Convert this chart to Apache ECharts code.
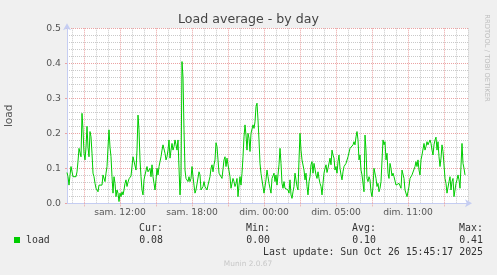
<!DOCTYPE html>
<html><head><meta charset="utf-8">
<script src="https://cdn.jsdelivr.net/npm/echarts@6/dist/echarts.min.js"></script>
<style>html,body{margin:0;padding:0;background:#f0f0f0;}#chart{width:497px;height:275px;}</style>
</head><body><div id="chart"></div>
<script>
const chartTitle = 'Load average - by day';
const seriesName = 'load';
const slotCount = 402; // 5-minute slots across the plot
const loadValues = [
0.088,0.076,0.052,0.08,0.105,0.11,0.076,0.078,0.081,0.076,
0.09,0.12,0.157,0.157,0.133,0.257,0.21,0.143,0.124,0.16,
0.22,0.16,0.133,0.205,0.19,0.143,0.086,0.076,0.057,0.043,
0.048,0.033,0.052,0.048,0.057,0.052,0.081,0.086,0.062,0.086,
0.105,0.16,0.21,0.16,0.133,0.076,0.029,0.076,0.057,0.019,
0.038,0.029,0.005,0.029,0.019,0.033,0.024,0.038,0.057,0.067,
0.048,0.06,0.07,0.071,0.078,0.076,0.133,0.135,0.129,0.095,
0.152,0.252,0.21,0.124,0.076,0.038,0.024,0.067,0.081,0.076,
0.105,0.09,0.086,0.1,0.076,0.11,0.076,0.057,0.038,0.067,
0.1,0.081,0.105,0.105,0.133,0.152,0.167,0.162,0.143,0.124,
0.133,0.152,0.181,0.129,0.152,0.171,0.152,0.162,0.181,0.167,
0.152,0.181,0.1,0.024,0.08,0.405,0.36,0.21,0.095,0.071,
0.076,0.062,0.076,0.062,0.071,0.105,0.076,0.052,0.029,0.038,
0.033,0.038,0.09,0.081,0.038,0.033,0.048,0.062,0.048,0.052,
0.038,0.052,0.048,0.076,0.1,0.11,0.09,0.11,0.124,0.173,
0.162,0.124,0.086,0.086,0.09,0.071,0.071,0.124,0.133,0.105,
0.129,0.11,0.114,0.076,0.043,0.038,0.071,0.062,0.048,0.057,
0.071,0.019,0.052,0.076,0.052,0.086,0.133,0.19,0.224,0.195,
0.152,0.2,0.186,0.148,0.2,0.205,0.224,0.214,0.233,0.276,
0.286,0.238,0.181,0.114,0.085,0.085,0.085,0.029,0.024,0.067,
0.095,0.076,0.057,0.043,0.029,0.071,0.071,0.086,0.062,0.081,
0.052,0.081,0.11,0.157,0.114,0.057,0.043,0.062,0.043,0.043,
0.043,0.038,0.029,0.067,0.024,0.014,0.033,0.048,0.086,0.067,
0.048,0.038,0.124,0.2,0.152,0.124,0.124,0.095,0.067,0.086,
0.048,0.024,0.062,0.076,0.11,0.119,0.086,0.114,0.11,0.081,
0.071,0.09,0.071,0.057,0.048,0.024,0.057,0.086,0.1,0.11,
0.088,0.1,0.098,0.129,0.11,0.152,0.138,0.129,0.095,0.105,
0.086,0.119,0.138,0.1,0.081,0.067,0.09,0.105,0.11,0.114,
0.119,0.133,0.138,0.157,0.152,0.162,0.167,0.176,0.167,0.19,
0.205,0.181,0.124,0.138,0.095,0.081,0.076,0.033,0.195,0.152,
0.071,0.062,0.076,0.067,0.033,0.019,0.048,0.1,0.105,0.071,
0.048,0.057,0.033,0.043,0.062,0.067,0.181,0.167,0.176,0.124,
0.143,0.086,0.071,0.114,0.1,0.078,0.086,0.076,0.064,0.052,
0.057,0.048,0.057,0.052,0.043,0.095,0.095,0.071,0.038,0.033,
0.019,0.014,0.048,0.071,0.076,0.081,0.081,0.086,0.105,0.119,
0.105,0.124,0.095,0.081,0.124,0.138,0.133,0.171,0.152,0.162,
0.176,0.167,0.171,0.181,0.171,0.152,0.138,0.167,0.181,0.189,
0.152,0.176,0.133,0.105,0.129,0.167,0.148,0.143,0.071,0.057,
0.029,0.033,0.062,0.076,0.038,0.062,0.071,0.019,0.024,0.057,
0.067,0.081,0.067,0.043,0.038,0.171,0.114,0.1,0.081
];
const labelSlots = [53, 125, 197, 269, 341];
const tickLabels = ['sam. 12:00', 'sam. 18:00', 'dim. 00:00', 'dim. 05:00', 'dim. 11:00'];
const firstHourSlot = 5;      // slot of first full hour
const slotsPerHour = 12;
const majorEvery = 36;        // 3 hours
const statNames = ['Cur:', 'Min:', 'Avg:', 'Max:'];
const statValues = ['0.08', '0.00', '0.10', '0.41'];
const lastUpdate = 'Last update: Sun Oct 26 15:45:17 2025';
const footer = 'Munin 2.0.67';
const sideText = 'RRDTOOL / TOBI OETIKER';

const slots = Array.from({length: slotCount}, (_, i) => String(i));
const GREEN = '#00cc00', GRAY = '#c9c9c9', RED = '#eba3a3', AXIS = '#c5cdf2', TXT = '#555';
const SANS = 'DejaVu Sans', MONO = 'DejaVu Sans Mono';

const statX = [163, 270, 376, 483];
const graphics = [
  {type:'text', x:487, y:58, rotation:-Math.PI/2, style:{text:sideText, fill:'#bdbdbd', font:'6.8px "DejaVu Sans"', align:'center', verticalAlign:'middle', textAlign:'center', textVerticalAlign:'middle'}},
  {type:'rect', shape:{x:14, y:237, width:6, height:6}, style:{fill:GREEN}},
  {type:'text', x:26, y:240, style:{text:seriesName, fill:'#333', font:'9.9px "DejaVu Sans Mono"', align:'left', verticalAlign:'middle', textAlign:'left', textVerticalAlign:'middle'}},
  {type:'text', x:483, y:252, style:{text:lastUpdate, fill:'#333', font:'9.9px "DejaVu Sans Mono"', align:'right', verticalAlign:'middle', textAlign:'right', textVerticalAlign:'middle'}},
  {type:'text', x:248, y:264, style:{text:footer, fill:'#c8c8c8', font:'7.4px "DejaVu Sans"', align:'center', verticalAlign:'middle', textAlign:'center', textVerticalAlign:'middle'}}
];
statNames.forEach((n, i) => {
  graphics.push({type:'text', x:statX[i] - 12, y:228, style:{text:n, fill:'#333', font:'9.9px "DejaVu Sans Mono"', align:'center', verticalAlign:'middle', textAlign:'center', textVerticalAlign:'middle'}});
  graphics.push({type:'text', x:statX[i], y:240, style:{text:statValues[i], fill:'#333', font:'9.9px "DejaVu Sans Mono"', align:'right', verticalAlign:'middle', textAlign:'right', textVerticalAlign:'middle'}});
});

const isHour = (i) => (i - firstHourSlot) % slotsPerHour === 0;
const isMajor = (i) => (i - firstHourSlot) % majorEvery === 12;

const chart = echarts.init(document.getElementById('chart'), null, {renderer:'canvas'});
chart.setOption({
  backgroundColor: '#f0f0f0',
  animation: false,
  title: {text: chartTitle, left: 'center', top: 13, padding: 0,
    textStyle: {fontFamily: SANS, fontSize: 12.6, fontWeight: 'normal', color: '#444'}},
  grid: {left: 67, right: 29, top: 28.3, bottom: 71.7, show: true, backgroundColor: '#ffffff', borderWidth: 0,
    containLabel: false, outerBoundsMode: 'none'},
  xAxis: [{
    type: 'category', data: slots, boundaryGap: false,
    axisLine: {show: true, lineStyle: {color: AXIS, width: 1}, symbol: ['none', 'arrow'], symbolSize: [6, 7], symbolOffset: [0, 4]},
    axisTick: {show: true, interval: (i) => isMajor(i), length: 3, lineStyle: {color: RED, type: [1, 1]}},
    axisLabel: {show: true, interval: (i) => labelSlots.includes(i),
      formatter: (v) => tickLabels[labelSlots.indexOf(Number(v))] || '',
      fontFamily: SANS, fontSize: 9.2, color: TXT, margin: 5, hideOverlap: false},
    splitLine: {show: true, interval: (i) => isHour(i) && !isMajor(i),
      lineStyle: {color: GRAY, type: [1, 1], width: 1}}
  }, {
    type: 'category', data: slots, boundaryGap: false, position: 'bottom',
    axisLine: {show: false}, axisTick: {show: false}, axisLabel: {show: false},
    splitLine: {show: true, interval: (i) => isMajor(i),
      lineStyle: {color: RED, type: [1, 1], width: 1}}
  }],
  yAxis: {
    type: 'value', min: 0, max: 0.5, interval: 0.1,
    name: seriesName, nameLocation: 'middle', nameGap: 52, nameRotate: 90,
    nameTextStyle: {fontFamily: SANS, fontSize: 10.6, color: TXT},
    axisLine: {show: true, lineStyle: {color: AXIS, width: 1}, symbol: ['none', 'arrow'], symbolSize: [6, 7], symbolOffset: [0, 5]},
    axisTick: {show: true, length: 2, lineStyle: {color: RED}},
    axisLabel: {formatter: (v) => v.toFixed(1), fontFamily: SANS, fontSize: 9.3, color: TXT, margin: 6},
    splitLine: {show: true, lineStyle: {color: RED, type: [1, 1], width: 1}},
    minorTick: {show: false, splitNumber: 5},
    minorSplitLine: {show: true, lineStyle: {color: GRAY, type: [1, 1], width: 1}}
  },
  graphic: graphics,
  series: [{
    name: seriesName, type: 'line', data: loadValues, showSymbol: false, symbol: 'none',
    lineStyle: {color: GREEN, width: 1}, itemStyle: {color: GREEN}, z: 5
  }]
});
</script></body></html>
